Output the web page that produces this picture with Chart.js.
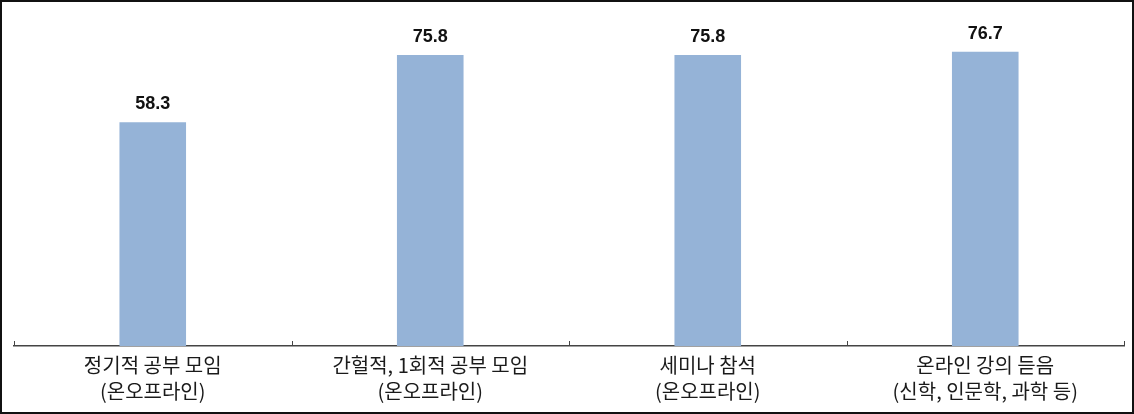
<!DOCTYPE html>
<html>
<head>
<meta charset="utf-8">
<script src="https://cdn.jsdelivr.net/npm/chart.js@4"></script>
<style>
  html, body { margin: 0; padding: 0; background: #fff; }
  #wrap { position: relative; width: 1134px; height: 414px; }
</style>
</head>
<body>
<div id="wrap"><canvas id="studyChart" width="1134" height="414"></canvas></div>
<script>
"use strict";

const categories = [
  ["정기적 공부 모임", "(온오프라인)"],
  ["간헐적, 1회적 공부 모임", "(온오프라인)"],
  ["세미나 참석", "(온오프라인)"],
  ["온라인 강의 듣음", "(신학, 인문학, 과학 등)"]
];
const values = [58.3, 75.8, 75.8, 76.7];

const frameAndLabels = {
  id: "frameAndLabels",
  afterDatasetsDraw(chart) {
    const ctx = chart.ctx;
    const meta = chart.getDatasetMeta(0);
    ctx.save();
    ctx.fillStyle = "#111";
    ctx.font = "bold 18px Arial, 'Liberation Sans', sans-serif";
    ctx.textAlign = "center";
    ctx.textBaseline = "alphabetic";
    meta.data.forEach((bar, i) => {
      ctx.fillText(values[i].toFixed(1), bar.x, bar.y - 13);
    });
    ctx.restore();
  },
  afterDraw(chart) {
    const ctx = chart.ctx;
    const xScale = chart.scales.x;
    const bottom = chart.chartArea.bottom;
    ctx.save();
    ctx.strokeStyle = "#444";
    ctx.lineWidth = 1;
    for (let i = 0; i <= categories.length; i++) {
      const x = Math.round(xScale.getPixelForValue(i - 0.5)) + 0.5;
      ctx.beginPath();
      ctx.moveTo(x, bottom - 5);
      ctx.lineTo(x, bottom);
      ctx.stroke();
    }
    ctx.strokeStyle = "#111";
    ctx.lineWidth = 2;
    ctx.strokeRect(1, 1, chart.width - 2, chart.height - 2);
    ctx.restore();
  }
};

document.addEventListener("DOMContentLoaded", () => {
  const ctx = document.getElementById("studyChart").getContext("2d");
  new Chart(ctx, {
    type: "bar",
    data: {
      labels: categories,
      datasets: [{
        data: values,
        backgroundColor: "#95b3d7",
        borderWidth: 0,
        barPercentage: 0.24,
        categoryPercentage: 1
      }]
    },
    options: {
      responsive: false,
      animation: false,
      layout: { padding: { left: 14, right: 10, top: 39, bottom: 0 } },
      plugins: {
        legend: { display: false },
        tooltip: { enabled: false }
      },
      scales: {
        y: {
          display: false,
          min: 0,
          max: 80
        },
        x: {
          offset: true,
          grid: { display: true, drawOnChartArea: false, drawTicks: false },
          border: { display: true, color: "#444", width: 1.5 },
          ticks: {
            color: "#1a1a1a",
            padding: 6,
            maxRotation: 0,
            font: { family: "'Noto Sans CJK KR', sans-serif", size: 20, lineHeight: 1.3 }
          },
          afterFit(scale) { scale.height = 68; }
        }
      }
    },
    plugins: [frameAndLabels]
  });
});
</script>
</body>
</html>
